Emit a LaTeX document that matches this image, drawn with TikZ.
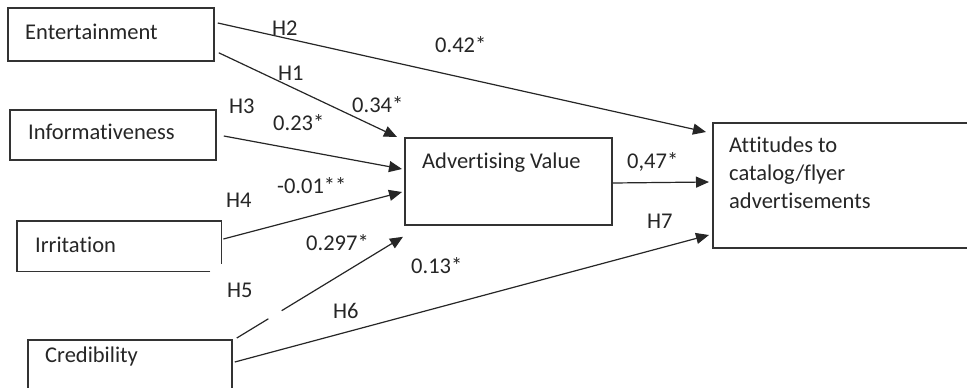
\documentclass[tikz,border=0pt]{standalone}
\usepackage{fontspec}
\setmainfont{Carlito}[Ligatures={NoCommon,NoRare,NoContextual}]
\newcommand\nolig{\kern0pt }
\usetikzlibrary{arrows.meta,calc}
\begin{document}
\begin{tikzpicture}[x=1pt,y=-1pt,
  boxline/.style={draw=black!80, line width=1.8pt},
  box/.style={boxline, rectangle, inner sep=0pt, anchor=north west},
  hidbox/.style={rectangle, inner sep=0pt, anchor=north west},
  txt/.style={inner sep=0pt, anchor=base west, font=\fontsize{22.5}{28}\selectfont, text=black!85},
  conn/.style={draw=black!85, line width=1.2pt, -{Triangle[length=13pt,width=11pt]}},
  seg/.style={draw=black!85, line width=1.2pt}]
\clip (0,0) rectangle (967,388);
\fill[white] (0,0) rectangle (967,388);
% boxes
\node[box, minimum width=206pt, minimum height=53pt] (ent) at (7,7) {};
\node[box, minimum width=206pt, minimum height=50pt] (inf) at (9,109) {};
\node[hidbox, minimum width=204pt, minimum height=50pt] (irr) at (17,221) {};
\draw[boxline] ($(irr.south east)+(-11,0)$) -- (irr.south west) -- (irr.north west) -- (irr.north east) -- ($(irr.south east)+(0,-7)$);
\node[box, minimum width=204pt, minimum height=53pt] (cred) at (27,339) {};
\node[box, minimum width=207pt, minimum height=87pt] (av) at (404,137) {};
\node[box, minimum width=270pt, minimum height=125pt] (att) at (712,122) {};
% box texts
\node[txt] (tent) at (25,39) {Entert\nolig ainment};
\node[txt] (tinf) at (28,139) {Informat\nolig iveness};
\node[txt] (tirr) at (35,252) {Irritat\nolig ion};
\node[txt] (tcred) at (45,362) {Credibility};
\node[txt] (tav) at (422,168) {Advert\nolig ising Value};
\node[txt] (tatt1) at (729,152) {At\nolig t\nolig itudes to};
\node[txt] (tatt2) at (729,180) {catalog/f\nolig lyer};
\node[txt] (tatt3) at (729,208) {advert\nolig isements};
% connectors
\draw[conn] ($(ent.north east)+(3,16)$) -- ($(att.north west)+(-6,10)$);
\draw[conn] ($(ent.south east)+(4,-9)$) -- ($(av.north west)+(-7,0)$);
\draw[conn] ($(inf.north east)+(7,27)$) -- ($(av.north west)+(-2,32)$);
\draw[conn] ($(irr.north east)+(2,18)$) -- ($(av.north west)+(-2,55)$);
\coordinate (h5s) at ($(cred.north east)+(4,-1)$);
\coordinate (h5e) at ($(av.south west)+(-1,11)$);
\draw[seg] (h5s) -- ($(h5s)!0.19!(h5e)$);
\draw[conn] ($(h5s)!0.27!(h5e)$) -- (h5e);
\draw[conn] ($(cred.north east)+(2,23)$) -- ($(att.north west)+(-3,113)$);
\draw[conn] ($(av.north east)+(0,46)$) -- ($(att.north west)+(-3,60)$);
% labels
\node[txt] (lh2) at (272,35) {H2};
\node[txt] (l042) at (435,52) {0.42*};
\node[txt] (lh1) at (278,80) {H1};
\node[txt] (l034) at (352,112) {0.34*};
\node[txt] (lh3) at (229,113) {H3};
\node[txt] (l023) at (273,130) {0.23*};
\node[txt] (l001) at (277,193) {-0.01**};
\node[txt] (lh4) at (226,207) {H4};
\node[txt] (l0297) at (306,250) {0.297*};
\node[txt] (l013) at (411,273) {0.13*};
\node[txt] (lh5) at (227,297) {H5};
\node[txt] (lh6) at (333,318) {H6};
\node[txt] (lh7) at (647,228) {H7};
\node[txt] (l047) at (627,168) {0,47*};
\end{tikzpicture}
\end{document}
